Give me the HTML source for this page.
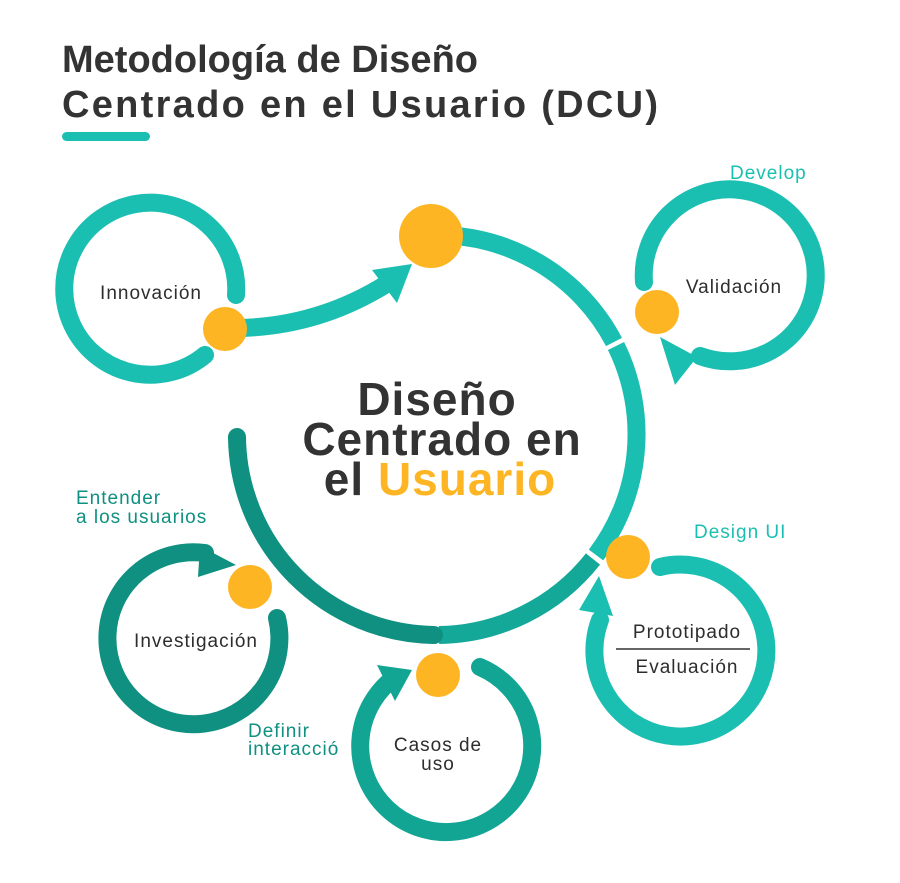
<!DOCTYPE html>
<html><head><meta charset="utf-8"><style>
body{margin:0;background:#fff;}
svg{display:block;font-family:"Liberation Sans",sans-serif;}
</style></head><body>
<svg width="900" height="883" viewBox="0 0 900 883" xmlns="http://www.w3.org/2000/svg">
<text x="62" y="72" font-size="38" font-weight="bold" fill="#333" textLength="416">Metodología de Diseño</text>
<text x="62" y="117" font-size="38" font-weight="bold" fill="#333" textLength="596">Centrado en el Usuario (DCU)</text>
<rect x="62" y="132" width="88" height="9" rx="4.5" fill="#1bbfb1"/>

<g fill="none" stroke-width="18" stroke-linecap="round">
<path d="M437 235 A200 200 0 0 1 614 342" stroke="#1bbfb1" stroke-linecap="butt"/>
<path d="M616 346 A200 200 0 0 1 596 555" stroke="#1bbfb1" stroke-linecap="butt"/>
<path d="M593 559 A200 200 0 0 1 439 635" stroke="#14a898" stroke-linecap="butt"/>
<path d="M434 635 A200 200 0 0 1 237 437" stroke="#0f9080"/>
<path d="M236 295 A86 86 0 1 0 205 355" stroke="#1bbfb1"/>
<path d="M240 328 Q320 326 388 283" stroke="#1bbfb1"/>
<path d="M644 282 A86 86 0 1 1 700 356" stroke="#1bbfb1"/>
<path d="M660 567 A86 86 0 1 1 600 620" stroke="#1bbfb1"/>
<path d="M277 618 A86 86 0 1 1 205 553" stroke="#0f9080"/>
<path d="M480 667 A86 86 0 1 1 395 677" stroke="#12a593"/>
</g>
<polygon points="412,264 372,270 397,303" fill="#1bbfb1"/>
<polygon points="668,345 705,365 683,393" fill="#1bbfb1" transform="translate(-8,-8)"/>
<polygon points="600,578 580,612 614,618" fill="#1bbfb1" transform="translate(-1,-2)"/>
<polygon points="236,568 200,549 198,580" fill="#0f9080" transform="translate(0,-3)"/>
<polygon points="415,667 380,662 398,698" fill="#12a593" transform="translate(-3,3)"/>

<g fill="#fdb524">
<circle cx="431" cy="236" r="32"/>
<circle cx="225" cy="329" r="22"/>
<circle cx="657" cy="312" r="22"/>
<circle cx="628" cy="557" r="22"/>
<circle cx="250" cy="587" r="22"/>
<circle cx="438" cy="675" r="22"/>
</g>

<g font-size="19" fill="#2d2d2d" text-anchor="middle" letter-spacing="1">
<text x="151" y="299">Innovación</text>
<text x="734" y="293">Validación</text>
<text x="687" y="638">Prototipado</text>
<text x="687" y="673">Evaluación</text>
<text x="196" y="647">Investigación</text>
<text x="438" y="751">Casos de</text>
<text x="438" y="770">uso</text>
</g>
<line x1="616" y1="649" x2="750" y2="649" stroke="#333" stroke-width="1.5"/>

<g font-size="19" fill="#1bbfb1" letter-spacing="1">
<text x="730" y="179">Develop</text>
<text x="694" y="538">Design UI</text>
</g>
<g font-size="19" fill="#0f9080" letter-spacing="1">
<text x="76" y="504">Entender</text>
<text x="76" y="523">a los usuarios</text>
<text x="248" y="737">Definir</text>
<text x="248" y="755">interacció</text>
</g>

<g font-size="46" font-weight="bold" text-anchor="middle" fill="#333" letter-spacing="1">
<text x="437" y="415">Diseño</text>
<text x="442" y="455">Centrado en</text>
<text x="440" y="495">el <tspan fill="#fdb524">Usuario</tspan></text>
</g>
</svg>
</body></html>
